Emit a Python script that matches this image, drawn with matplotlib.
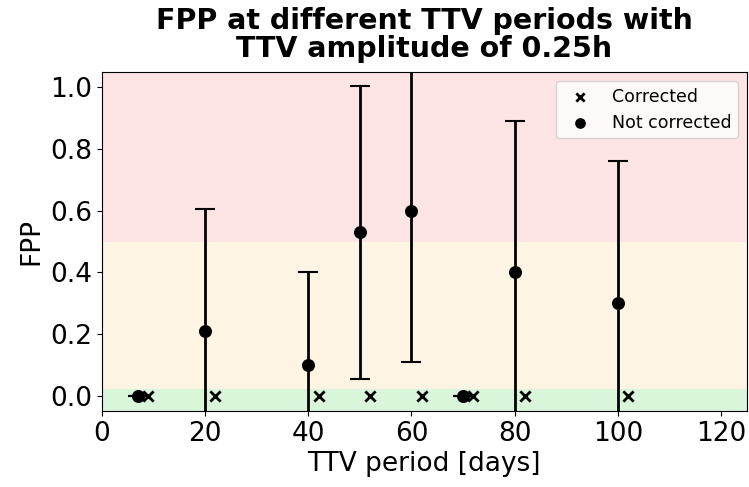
import numpy as np
import matplotlib.pyplot as plt

# TTV periods [days] and false positive probabilities
periods = [7, 20, 40, 50, 60, 70, 80, 100]
fpp_not_corrected = [0.0, 0.21, 0.10, 0.53, 0.60, 0.0, 0.40, 0.30]
err_not_corrected = [0.0, 0.395, 0.30, 0.475, 0.49, 0.0, 0.49, 0.46]
fpp_corrected = [0.0, 0.0, 0.0, 0.0, 0.0, 0.0, 0.0, 0.0]
offset = 2  # shift corrected points so they don't overlap

fig = plt.figure(figsize=(7.49, 4.87), dpi=100)
ax = fig.add_axes([0.136, 0.156, 0.861, 0.696])

ax.axhspan(0.5, 1.05, color='#fde4e4', lw=0)
ax.axhspan(0.02, 0.5, color='#fef4e4', lw=0)
ax.axhspan(-0.05, 0.02, color='#daf6da', lw=0)

ax.errorbar(periods, fpp_not_corrected, yerr=err_not_corrected, fmt='none',
            ecolor='black', elinewidth=2, capsize=7, capthick=1.5, zorder=3)
ax.scatter(np.array(periods) + offset, fpp_corrected, marker='x', color='black',
           s=55, linewidths=2, label='Corrected', zorder=4)
ax.scatter(periods, fpp_not_corrected, marker='o', color='black',
           s=70, label='Not corrected', zorder=4)

ax.set_xlim(0, 125)
ax.set_ylim(-0.05, 1.05)
ax.set_xticks([0, 20, 40, 60, 80, 100, 120])
ax.set_yticks([0.0, 0.2, 0.4, 0.6, 0.8, 1.0])
ax.tick_params(labelsize=19)
ax.set_xlabel('TTV period [days]', fontsize=19, labelpad=3)
ax.set_ylabel('FPP', fontsize=19)
ax.set_title('FPP at different TTV periods with\nTTV amplitude of 0.25h',
             fontsize=20.5, fontweight='bold', linespacing=0.98, pad=11)

ax.legend(loc='upper right', fontsize=12.5, markerscale=0.8, labelspacing=0.45)

fig.savefig('out.png', dpi=100)
